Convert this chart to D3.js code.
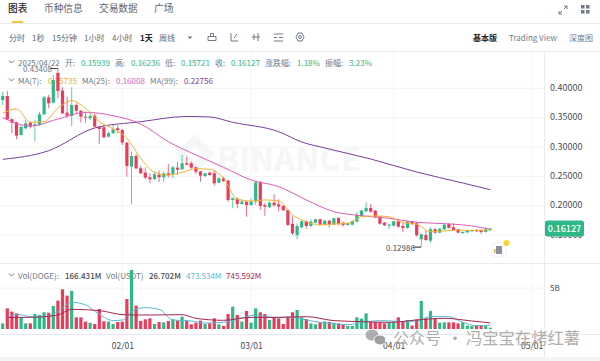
<!DOCTYPE html>
<html>
<head>
<meta charset="utf-8">
<script src="https://cdn.jsdelivr.net/npm/d3@7"></script>
<style>
html, body { margin: 0; padding: 0; background: #fff; }
svg { display: block; }
text { font-family: "Noto Sans CJK SC", Roboto, sans-serif; }
</style>
</head>
<body>
<div id="chart"></div>
<script>
// daily candles, 2025/01/06 to 2025/04/22, index 0 = 01/06
var opens = [
.3803,.3871,.3474,.3423,.3207,.3321,.3417,.3360,.3377,.3559,
.3848,.3757,.4262,.3961,.3587,.3531,.3718,.3621,.3519,.3491,
.3536,.3349,.3338,.3179,.3236,.3321,.3292,.3077,.2669,.2850,
.2640,.2567,.2487,.2458,.2532,.2487,.2555,.2543,.2651,.2623,
.2725,.2725,.2657,.2589,.2509,.2566,.2555,.2396,.2470,.2430,
.2101,.2124,.2033,.2073,.2016,.2073,.2402,.2016,.1976,.2056,
.2027,.1999,.1931,.1693,.1500,.1636,.1738,.1659,.1715,.1772,
.1681,.1749,.1681,.1795,.1715,.1676,.1681,.1732,.1829,.1908,
.1965,.1919,.1817,.1715,.1664,.1664,.1738,.1659,.1625,.1732,
.1704,.1432,.1505,.1409,.1602,.1545,.1602,.1693,.1636,.1602,
.1545,.1551,.1568,.1590,.1585,.1556,.15939];
var highs = [
.3944,.3961,.3491,.3434,.3377,.3462,.3434,.3462,.3604,.3871,
.3888,.4228,.43408,.4018,.3859,.4018,.3746,.3633,.3604,.3604,
.3576,.3349,.3377,.3264,.3377,.3377,.3304,.3085,.2924,.2884,
.2680,.2657,.2555,.2583,.2600,.2583,.2714,.2680,.2753,.2867,
.2838,.2753,.2668,.2589,.2566,.2583,.2612,.2487,.2498,.2441,
.2147,.2147,.2113,.2079,.2130,.2424,.2424,.2056,.2073,.2203,
.2113,.2010,.1942,.1817,.1704,.1749,.1749,.1772,.1783,.1783,
.1761,.1761,.1800,.1806,.1732,.1715,.1749,.1897,.1942,.2061,
.2033,.1931,.1829,.1727,.1693,.1749,.1772,.1732,.1744,.1744,
.1727,.1534,.1590,.1636,.1630,.1625,.1693,.1704,.1704,.1613,
.1568,.1590,.1596,.1602,.1602,.1636,.16236];
var lows = [
.3718,.3462,.3236,.3134,.3196,.3304,.3321,.3094,.3360,.3548,
.3661,.3746,.3831,.3565,.3491,.3360,.3576,.3417,.3417,.3462,
.3338,.3054,.3151,.3168,.3224,.3236,.3037,.2499,.2028,.2623,
.2544,.2453,.2385,.2441,.2407,.2407,.2487,.2470,.2526,.2612,
.2691,.2634,.2543,.2413,.2487,.2509,.2345,.2385,.2407,.2067,
.1965,.1959,.2022,.1818,.1999,.2016,.1931,.1829,.1959,.1988,
.1903,.1914,.1659,.1505,.1432,.1613,.1613,.1647,.1704,.1670,
.1670,.1636,.1670,.1670,.1647,.1664,.1670,.1715,.1817,.1897,
.1885,.1789,.1681,.1659,.1602,.1647,.1630,.1556,.1608,.1676,
.1477,.12986,.1403,.1375,.1522,.1534,.1590,.1613,.1579,.1534,
.1522,.1534,.1556,.1556,.1522,.1545,.15721];
var closes = [
.3871,.3474,.3417,.3196,.3343,.3406,.3349,.3389,.3559,.3848,
.3746,.4143,.3956,.3576,.3536,.3718,.3621,.3519,.3502,.3531,
.3349,.3309,.3168,.3236,.3304,.3292,.3077,.2680,.2850,.2640,
.2555,.2482,.2453,.2538,.2487,.2555,.2521,.2657,.2617,.2725,
.2702,.2651,.2583,.2515,.2555,.2526,.2385,.2470,.2424,.2101,
.2130,.2033,.2073,.2016,.2073,.2402,.1999,.1988,.2056,.2010,
.1988,.1925,.1676,.1534,.1659,.1738,.1659,.1732,.1772,.1681,
.1749,.1681,.1789,.1693,.1676,.1704,.1738,.1846,.1919,.1965,
.1902,.1806,.1698,.1670,.1681,.1738,.1647,.1625,.1732,.1693,
.1500,.1517,.1420,.1602,.1545,.1613,.1681,.1625,.1590,.1545,
.1556,.1579,.1590,.1568,.1556,.1602,.16127];
// volume in billions of DOGE
var volumes = [
.69,2.52,2.12,1.91,1.42,.69,.69,1.83,1.71,2.04,
1.99,2.81,3.46,4.84,4.07,4.64,1.42,1.42,.90,.77,
.61,2.44,.94,.90,.61,.85,.90,3.66,7.20,2.85,
.98,1.18,1.30,.61,.85,.81,.98,1.18,1.02,1.51,
1.02,.57,.77,1.02,.61,.69,1.30,.57,.37,1.83,
2.73,1.71,.90,2.20,.77,2.52,2.04,1.83,1.10,1.42,
1.30,.61,1.51,2.04,2.32,1.42,1.22,.69,.57,.81,
.94,.85,.77,.69,.53,.37,.37,1.42,1.26,1.91,
.85,.85,.81,.69,.81,.90,1.42,.90,1.10,.41,
1.18,3.42,1.30,2.20,1.30,.77,.81,.81,.81,.69,
.81,.41,.37,.41,.41,.41,.166];

// moving averages at these candle indexes
var ma7Idx = [0,3,6,9,12,15,18,21,24,27,30,33,36,39,42,45,48,51,54,57,60,63,66,69,72,75,78,81,84,87,90,93,96,99,102,105,106];
var ma7 = [.3576,.3650,.3423,.3434,.3661,.3791,.3661,.3434,.3309,.3151,.2810,.2572,.2526,.2572,.2634,.2623,.2470,.2113,.2084,.2101,.2084,.1846,.1732,.1676,.1693,.1704,.1817,.1829,.1817,.1715,.1687,.1562,.1573,.1590,.1579,.1590,.1590];
var ma25Idx = [0,6,12,18,24,30,36,42,48,54,60,66,72,78,84,90,96,102,106];
var ma25 = [.3502,.3360,.3479,.3593,.3536,.3394,.3093,.2867,.2657,.2441,.2328,.2101,.1902,.1834,.1789,.1721,.1698,.1659,.16008];
var ma99Idx = [0,10,20,30,40,45,50,60,65,70,80,90,100,106];
var ma99 = [.2793,.2940,.3326,.3433,.3522,.3513,.3423,.3263,.3088,.2986,.2798,.2577,.2390,.22756];
var volMa7Idx = [1,3,6,9,12,15,18,21,24,26,28,31,34,37,41,44,48,51,55,59,63,67,71,75,79,83,87,90,93,97,100,103,106];
var volMa7 = [1.42,1.79,1.51,1.47,2.12,3.26,2.93,1.79,1.02,1.10,2.12,2.60,2.40,1.10,.98,.73,.81,1.18,1.71,1.42,1.42,.98,.69,.53,.90,1.02,.90,.98,1.51,1.51,.81,.41,.47];
var volMa25Idx = [1,6,12,15,21,27,33,39,42,48,54,60,66,72,78,84,90,96,102,106];
var volMa25 = [1.42,1.42,1.71,2.40,2.24,1.71,1.71,1.75,1.30,1.06,1.42,1.42,1.51,1.02,.90,.81,1.10,1.30,.98,.746];

var priceTicks = [0.40, 0.35, 0.30, 0.25, 0.20, 0.15];
var dateIdx = [26, 54, 85, 115];
var dateLabels = ["02/01", "03/01", "04/01", "05/01"];
var tabs = ["图表", "币种信息", "交易数据", "广场"];
var intervals = ["分时", "1秒", "15分钟", "1小时", "4小时", "1天", "周线"];

var green = "#2eb886", red = "#ea3b5a", gridColor = "#f3f4f5", lineColor = "#e9ebee";
var muted = "#707a8a", dark = "#1e2329";
var width = 600, height = 361, axisLeft = 544.5;

var svg = d3.select("#chart").append("svg")
    .attr("width", width).attr("height", height);

var x = d3.scaleLinear().domain([0, 115]).range([2.7, 531.7]);
var y = d3.scaleLinear().domain([0.40, 0.20]).range([88.4, 205.9]);
var yVol = d3.scaleLinear().domain([0, 5]).range([329, 288]);

function label(g, s, px, py, size, fill, weight, anchor) {
    return g.append("text").attr("x", px).attr("y", py)
        .attr("font-size", size).attr("fill", fill)
        .attr("font-weight", weight || 400)
        .attr("text-anchor", anchor || "start")
        .attr("dominant-baseline", "central")
        .text(s);
}

// Header tabs
var head = svg.append("g");
var tabX = [8, 44, 99, 154];
tabs.forEach(function(t, i) {
    label(head, t, tabX[i], 8, 9.7, i ? "#5e6673" : dark, i ? 400 : 500);
});
head.append("rect").attr("x", 12).attr("y", 21).attr("width", 11).attr("height", 2).attr("fill", "#f0c93a");
head.append("line").attr("x1", 0).attr("x2", width).attr("y1", 23.5).attr("y2", 23.5).attr("stroke", lineColor);
head.append("line").attr("x1", 0).attr("x2", width).attr("y1", 51.5).attr("y2", 51.5).attr("stroke", lineColor);

var intX = [9, 32, 52, 84, 112, 140, 159];
intervals.forEach(function(t, i) {
    label(head, t, intX[i], 37, 8, i == 5 ? dark : "#5e6673", i == 5 ? 700 : 400);
});
head.append("path").attr("d", "M187.5 36.5h5l-2.5 2.5z").attr("fill", muted);

// toolbar icons
var icons = head.append("g").attr("fill", "none").attr("stroke", "#707a8a").attr("stroke-width", 1);
icons.append("path").attr("d", "M208 40.5h8M208 36.5h8v4h-8zM210.5 33.5h3v3h-3z");
icons.append("path").attr("d", "M231 33v8h7M234 38l3-4");
icons.append("path").attr("d", "M252 37h8M254 34v6M258 33v8");
icons.append("path").attr("d", "M274 34h9M274 37.500h3M279 37.500h4M274 41h9");
icons.append("path").attr("d", "M296 37l2-4h4l2 4-2 4h-4z");
icons.append("circle").attr("cx", 300).attr("cy", 37).attr("r", 1.5);

label(head, "基本版", 473, 37, 8, dark, 700);
label(head, "Trading View", 509, 37, 8, muted);
label(head, "深度图", 569, 37, 8, muted);
head.append("path").attr("d", "M559 14v-3M559 14h3M559 14l3-3M567 6h-3M567 6v3M567 6l-3 3")
    .attr("fill", "none").attr("stroke", muted);
head.selectAll(".dot").data([[581,5],[586,5],[581,10],[586,10]]).enter().append("rect")
    .attr("x", function(d) { return d[0]; }).attr("y", function(d) { return d[1]; })
    .attr("width", 3.5).attr("height", 3.5).attr("fill", muted);

// Grid
var grid = svg.append("g").attr("stroke", gridColor).attr("stroke-width", 1);
grid.selectAll(".gx").data(dateIdx).enter().append("line")
    .attr("x1", function(d) { return x(d); }).attr("x2", function(d) { return x(d); })
    .attr("y1", 52).attr("y2", 334);
grid.selectAll(".gy").data(priceTicks).enter().append("line")
    .attr("x1", 0).attr("x2", axisLeft)
    .attr("y1", function(d) { return y(d); }).attr("y2", function(d) { return y(d); });
grid.append("line").attr("x1", 0).attr("x2", axisLeft).attr("y1", yVol(5)).attr("y2", yVol(5));
svg.append("line").attr("x1", axisLeft).attr("x2", axisLeft).attr("y1", 52).attr("y2", 357).attr("stroke", lineColor);
svg.append("line").attr("x1", 0).attr("x2", width).attr("y1", 263.5).attr("y2", 263.5).attr("stroke", lineColor);
svg.append("line").attr("x1", 0).attr("x2", width).attr("y1", 334.5).attr("y2", 334.5).attr("stroke", lineColor);
svg.append("rect").attr("x", 0).attr("y", 357).attr("width", width).attr("height", 4).attr("fill", "#f3f4f5");

// Watermark
var mark = svg.append("g").attr("fill", "#f5f6f7");
mark.append("path").attr("d", "M195 134l20 20-20 20-20-20zM195 146l-8 8 8 8 8-8z").attr("fill-rule", "evenodd");
label(mark, "BINANCE", 217, 156, 32.5, "#f5f6f7", 700);

// Legends
var legend = svg.append("g");
function legendRow(items, py, size) {
    items.forEach(function(d) { label(legend, d[0], d[1], py, size, d[2], d[3]); });
}
legend.selectAll("path").data([62, 80, 275]).enter().append("path")
    .attr("d", function(d) { return "M9 " + (d - 1.500) + "l2.500 2.500 2.500-2.500"; })
    .attr("fill", "none").attr("stroke", muted);
legendRow([
    ["2025/04/22", 18, muted], ["开:", 65, muted], ["0.15939", 81, green],
    ["高:", 115, muted], ["0.16236", 131, green], ["低:", 165, muted], ["0.15721", 181, green],
    ["收:", 215, muted], ["0.16127", 231, green], ["涨跌幅:", 265, muted], ["1.18%", 297, green],
    ["振幅:", 325, muted], ["3.23%", 349, green]
], 62, 8);
legendRow([
    ["MA(7):", 18, muted], ["0.15735", 48, "#e9ae2c"],
    ["MA(25):", 82, muted], ["0.16008", 116, "#de5ebc"],
    ["MA(99):", 150, muted], ["0.22756", 184, "#7a3e9d"]
], 80, 8);
legendRow([
    ["Vol(DOGE):", 18, muted], ["166.431M", 65, "#474d57", 500],
    ["Vol(USDT)", 106, muted], ["26.702M", 149, "#474d57", 500],
    ["473.534M", 186, "#5bb8d4"], ["745.592M", 226, "#a8274e"]
], 275, 8);

// Price axis
var priceAxis = d3.axisRight(y).tickValues(priceTicks).tickSize(0).tickPadding(0)
    .tickFormat(d3.format(".5f"));
var priceG = svg.append("g").attr("transform", "translate(550,-1)").call(priceAxis);
priceG.select(".domain").remove();
priceG.selectAll("text").attr("font-size", 9).attr("fill", "#474d57");

var volAxis = d3.axisRight(yVol).tickValues([5]).tickSize(0).tickPadding(0)
    .tickFormat(function(d) { return d + "B"; });
var volG = svg.append("g").attr("transform", "translate(550,0)").call(volAxis);
volG.select(".domain").remove();
volG.selectAll("text").attr("font-size", 8).attr("fill", "#474d57");

// Date axis
var dateAxis = d3.axisBottom(x).tickValues(dateIdx).tickSize(0).tickPadding(0)
    .tickFormat(function(d, i) { return dateLabels[i]; });
var dateG = svg.append("g").attr("transform", "translate(0,343)").call(dateAxis);
dateG.select(".domain").remove();
dateG.selectAll("text").attr("font-size", 8.500).attr("fill", "#474d57");

// Candles
var candles = svg.append("g").selectAll("g").data(closes).enter().append("g")
    .attr("fill", function(c, i) { return c >= opens[i] ? green : red; });
candles.append("rect")
    .attr("x", function(c, i) { return x(i) - 0.5; }).attr("width", 1)
    .attr("y", function(c, i) { return y(highs[i]); })
    .attr("height", function(c, i) { return y(lows[i]) - y(highs[i]); })
    .attr("opacity", 0.75);
candles.append("rect")
    .attr("x", function(c, i) { return x(i) - 1.6; }).attr("width", 3.2)
    .attr("y", function(c, i) { return y(Math.max(c, opens[i])); })
    .attr("height", function(c, i) { return Math.max(1, Math.abs(y(c) - y(opens[i]))); });

// Volume bars
svg.append("g").selectAll("rect").data(volumes).enter().append("rect")
    .attr("x", function(v, i) { return x(i) - 1.6; }).attr("width", 3.2)
    .attr("y", function(v) { return yVol(v); })
    .attr("height", function(v) { return yVol(0) - yVol(v); })
    .attr("fill", function(v, i) { return closes[i] >= opens[i] ? green : red; });

// Lines
function drawLine(idx, vals, scale, color) {
    var line = d3.line()
        .x(function(d, i) { return x(idx[i]); })
        .y(function(d) { return scale(d); })
        .curve(d3.curveMonotoneX);
    svg.append("path").attr("d", line(vals)).attr("fill", "none")
        .attr("stroke", color).attr("stroke-width", 1);
}
drawLine(ma99Idx, ma99, y, "#7a3e9d");
drawLine(ma25Idx, ma25, y, "#de5ebc");
drawLine(ma7Idx, ma7, y, "#efb435");
drawLine(volMa7Idx, volMa7, yVol, "#5bb8d4");
drawLine(volMa25Idx, volMa25, yVol, "#a8274e");

// High and low markers
label(svg, "0.43408", 23, 68, 8, muted);
svg.append("line").attr("x1", 50).attr("x2", 58).attr("y1", 68.500).attr("y2", 68.500).attr("stroke", "#474d57");
label(svg, "0.12986", 386, 247, 8, "#474d57");
svg.append("line").attr("x1", 413).attr("x2", 421).attr("y1", y(0.12986)).attr("y2", y(0.12986)).attr("stroke", "#1e2329");

// Last price tag
svg.append("rect").attr("x", 545).attr("y", 220.500).attr("width", 39).attr("height", 16).attr("rx", 2.500).attr("fill", green);
label(svg, "0.16127", 564.500, y(0.16127), 9, "#fff", 500, "middle");

// Small button under the last candle
svg.append("rect").attr("x", 492).attr("y", 243).attr("width", 14).attr("height", 14).attr("rx", 3)
    .attr("fill", "#fff").attr("stroke", "#eeeff1");
svg.append("rect").attr("x", 496).attr("y", 246).attr("width", 6).attr("height", 8).attr("fill", "#8a919c");
svg.append("rect").attr("x", 494).attr("y", 249).attr("width", 1.500).attr("height", 4).attr("fill", "#e0a94a");
svg.append("circle").attr("cx", 506.500).attr("cy", 243).attr("r", 3).attr("fill", "#f8d33a");

// Photo watermark along the bottom
var wm = svg.append("g");
wm.append("ellipse").attr("cx", 372).attr("cy", 335).attr("rx", 6.500).attr("ry", 5.500).attr("fill", "#9a9a9a").attr("opacity", 0.8);
wm.append("ellipse").attr("cx", 380).attr("cy", 340).attr("rx", 6).attr("ry", 5).attr("fill", "#8f8f8f").attr("stroke", "#fff").attr("opacity", 0.85);
label(wm, "公众号", 393, 337, 16, "#a0a0a0").attr("opacity", 0.85);
label(wm, "·", 447, 337, 16, "#a0a0a0").attr("opacity", 0.85);
label(wm, "冯宝宝在烤红薯", 466, 337, 16.3, "#a0a0a0").attr("opacity", 0.85);
</script>
</body>
</html>
